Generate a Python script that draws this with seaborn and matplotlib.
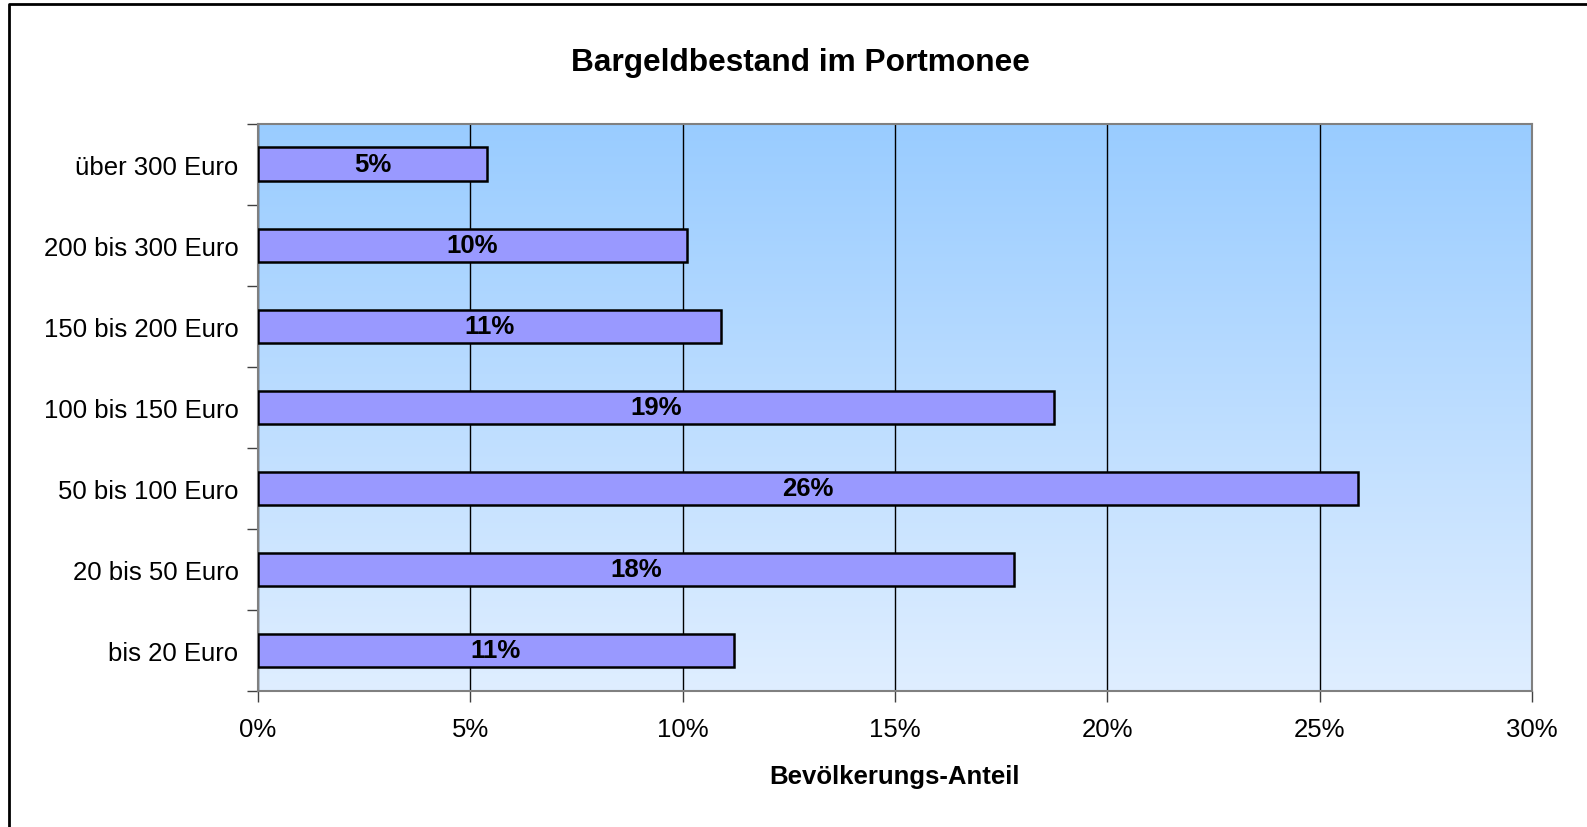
import numpy as np
import pandas as pd
import matplotlib
matplotlib.use("Agg")
import matplotlib.pyplot as plt
from matplotlib.lines import Line2D
from matplotlib.ticker import FixedLocator, PercentFormatter
import seaborn as sns

categories = ["über 300 Euro", "200 bis 300 Euro", "150 bis 200 Euro",
              "100 bis 150 Euro", "50 bis 100 Euro", "20 bis 50 Euro", "bis 20 Euro"]
shares = [5.4, 10.1, 10.9, 18.75, 25.9, 17.8, 11.2]
bar_labels = ["5%", "10%", "11%", "19%", "26%", "18%", "11%"]

df = pd.DataFrame({"Kategorie": categories, "Anteil": shares})

sns.set_style("white")
plt.rcParams["font.family"] = ["Liberation Sans", "DejaVu Sans"]
plt.rcParams["text.color"] = "black"
plt.rcParams["axes.labelcolor"] = "black"
plt.rcParams["xtick.labelcolor"] = "black"
plt.rcParams["ytick.labelcolor"] = "black"

fig = plt.figure(figsize=(15.87, 8.28), dpi=100)
ax = fig.add_axes([0.1626, 0.1643, 0.8027, 0.6853])

# gradient background, darker blue on top
grad = np.linspace(0, 1, 256).reshape(-1, 1)
cmap = matplotlib.colors.LinearSegmentedColormap.from_list("bg", ["#99CCFF", "#DFEEFF"])
ax.imshow(grad, aspect="auto", cmap=cmap, extent=[0, 30, 6.5, -0.5], zorder=0)

sns.barplot(data=df, x="Anteil", y="Kategorie", order=categories, orient="h",
            color="#9999FF", edgecolor="black", linewidth=1.8, width=0.41,
            saturation=1, ax=ax, zorder=3)

ax.bar_label(ax.containers[0], labels=bar_labels, label_type="center",
             fontsize=18.5, fontweight="bold", color="black")

ax.set_xlim(0, 30)
ax.set_ylim(6.5, -0.5)
ax.set_xticks(np.arange(0, 31, 5))
ax.xaxis.set_major_formatter(PercentFormatter(decimals=0))
ax.grid(axis="x", color="black", linewidth=1, zorder=1)
ax.set_axisbelow(True)

ax.yaxis.set_minor_locator(FixedLocator(np.arange(-0.5, 7, 1)))
ax.tick_params(axis="y", which="major", length=0, pad=14, labelsize=18.5)
ax.tick_params(axis="y", which="minor", length=8, width=1, color="#404040", direction="out", left=True)
ax.tick_params(axis="x", which="major", length=8, width=1, color="#404040", direction="out",
               bottom=True, pad=11, labelsize=18.5)

for s in ax.spines.values():
    s.set_color("#808080")
    s.set_linewidth(1.5)
    s.set_visible(True)

ax.set_ylabel("")
ax.set_xlabel("Bevölkerungs-Anteil", fontsize=18.5, fontweight="bold", labelpad=16)
fig.text(0.5045, 0.9235, "Bargeldbestand im Portmonee", ha="center", va="center",
         fontsize=22.8, fontweight="bold")

# outer chart frame (left and top edge)
fig.add_artist(Line2D([9 / 1587, 9 / 1587, 1.0], [0.0, 1 - 5 / 828, 1 - 5 / 828],
                      transform=fig.transFigure, color="black", linewidth=2))

fig.savefig("out.png", dpi=100)
